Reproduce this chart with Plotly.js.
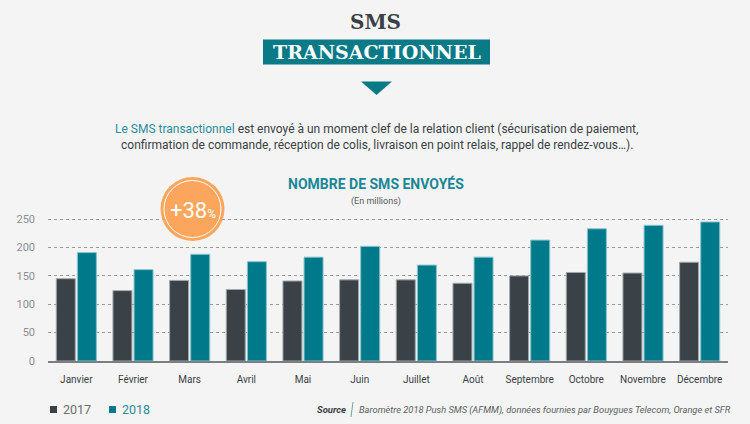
<!DOCTYPE html>
<html>
<head>
<meta charset="utf-8">
<script src="https://cdn.plot.ly/plotly-3.0.1.min.js"></script>
<style>
html,body{margin:0;padding:0;background:#f4f4f4;}
#chart{width:750px;height:424px;}
</style>
</head>
<body>
<div id="chart"></div>
<script>
const months = ["Janvier","Février","Mars","Avril","Mai","Juin","Juillet","Août","Septembre","Octobre","Novembre","Décembre"];
const sms2017 = [145,124,142,126,141,143,143,137,150,156,155,174];
const sms2018 = [191,161,188,175,183,202,169,183,213,233,239,245];
const yTicks = [0,50,100,150,200,250];
const seriesNames = ["2017","2018"];

const C17 = "#3a4147", C18 = "#00798a", TEAL = "#1b8796", DARK = "#3a3f44";
const SANS = "Roboto, 'Noto Sans', sans-serif";
const SLAB = "'DejaVu Serif', serif";

// pixel -> paper helpers (plot area: x 48..728, y 212..361)
const L = 48, R = 728, T = 212, B = 361;
const X = px => (px - L) / (R - L);
const Y = py => (B - py) / (B - T);

const traces = [
  {type:"bar", name:seriesNames[0], x:months, y:sms2017,
   marker:{color:C17, line:{color:"#a3a8ab", width:1}}, hoverinfo:"x+y"},
  {type:"bar", name:seriesNames[1], x:months, y:sms2018,
   marker:{color:C18, line:{color:"#86c3cb", width:1}}, hoverinfo:"x+y"}
];

const shapes = [
  {type:"rect", xref:"paper", yref:"paper", x0:X(263), x1:X(490), y0:Y(64.5), y1:Y(39.5),
   fillcolor:"#0b7a87", line:{width:0}, layer:"above"},
  {type:"path", xref:"paper", yref:"paper",
   path:`M ${X(361)} ${Y(81.5)} L ${X(392)} ${Y(81.5)} L ${X(376.5)} ${Y(95)} Z`,
   fillcolor:"#0b7a87", line:{width:0}, layer:"above"},
  {type:"circle", xref:"paper", yref:"paper", x0:X(160.5), x1:X(224.5), y0:Y(241), y1:Y(177),
   fillcolor:"#fba65c", line:{width:0}, layer:"above"},
  {type:"circle", xref:"paper", yref:"paper", x0:X(164), x1:X(221), y0:Y(237.5), y1:Y(180.5),
   fillcolor:"rgba(0,0,0,0)", line:{width:1, color:"#ffffff"}, layer:"above"},
  {type:"rect", xref:"paper", yref:"paper", x0:X(50), x1:X(57), y0:Y(413), y1:Y(406),
   fillcolor:C17, line:{width:0}},
  {type:"rect", xref:"paper", yref:"paper", x0:X(109), x1:X(116), y0:Y(413), y1:Y(406),
   fillcolor:C18, line:{width:0}},
  {type:"line", xref:"paper", yref:"paper", x0:X(353), x1:X(351), y0:Y(402), y1:Y(417),
   line:{width:1, color:"#6aa9b2"}}
];

const ann = (px, py, text, font, xanchor="center") => ({
  xref:"paper", yref:"paper", x:X(px), y:Y(py), text, showarrow:false,
  xanchor, yanchor:"middle", font
});

const annotations = [
  ann(375, 22.5, "<b>SMS</b>", {family:SLAB, size:20, color:"#3b4045"}),
  ann(376.5, 52.5, "<b>TRANSACTIONNEL</b>", {family:SLAB, size:19, color:"#ffffff"}),
  ann(376.5, 128.5, "<span style='color:#2a8c9b'>Le SMS transactionnel</span> est envoyé à un moment clef de la relation client (sécurisation de paiement,",
      {family:SANS, size:12, color:DARK}),
  ann(377, 145, "confirmation de commande, réception de colis, livraison en point relais, rappel de rendez-vous…).",
      {family:SANS, size:12, color:DARK}),
  ann(376, 183, "<b>NOMBRE DE SMS ENVOYÉS</b>", {family:SANS, size:14, color:TEAL}),
  ann(376, 201, "(En millions)", {family:SANS, size:9, color:"#555a5f"}),
  ann(192.5, 210, "+38<span style='font-size:12px'>%</span>", {family:SANS, size:22, color:"#ffffff"}),
  ann(61, 409.5, "2017", {family:SANS, size:12.5, color:"#6b6f73"}, "left"),
  ann(120, 409.5, "2018", {family:SANS, size:12.5, color:"#2a8c9b"}, "left"),
  ann(348, 409.5, "<b><i>Source</i></b>", {family:SANS, size:9.5, color:"#3a3f44"}, "right"),
  ann(357, 409.5, "<i>Baromètre 2018 Push SMS (AFMM), données fournies par Bouygues Telecom, Orange et SFR</i>",
      {family:SANS, size:9.3, color:"#5a5f64"}, "left")
];

const layout = {
  width:750, height:424,
  margin:{l:L, r:750-R, t:T, b:424-B, pad:0},
  paper_bgcolor:"#f4f4f4", plot_bgcolor:"#f4f4f4",
  barmode:"group", bargap:0.255, bargroupgap:0.1,
  showlegend:false,
  xaxis:{type:"category", range:[-0.5,11.5], fixedrange:true,
         showline:true, linecolor:"#7a7f83", linewidth:1.5,
         ticks:"", showgrid:false, zeroline:false,
         ticklabelstandoff:8,
         tickfont:{family:SANS, size:10, color:DARK}},
  yaxis:{range:[0, (B-T)/0.5675], fixedrange:true,
         tickvals:yTicks, ticktext:yTicks.map(String),
         showgrid:true, gridcolor:"#9a9a9a", griddash:"dot", gridwidth:1,
         zeroline:false, showline:false, ticks:"",
         ticklabelstandoff:12,
         tickfont:{family:SANS, size:11, color:"#8a9097"}},
  shapes, annotations,
  font:{family:SANS}
};

Plotly.newPlot("chart", traces, layout, {displayModeBar:false, staticPlot:true});
</script>
</body>
</html>
